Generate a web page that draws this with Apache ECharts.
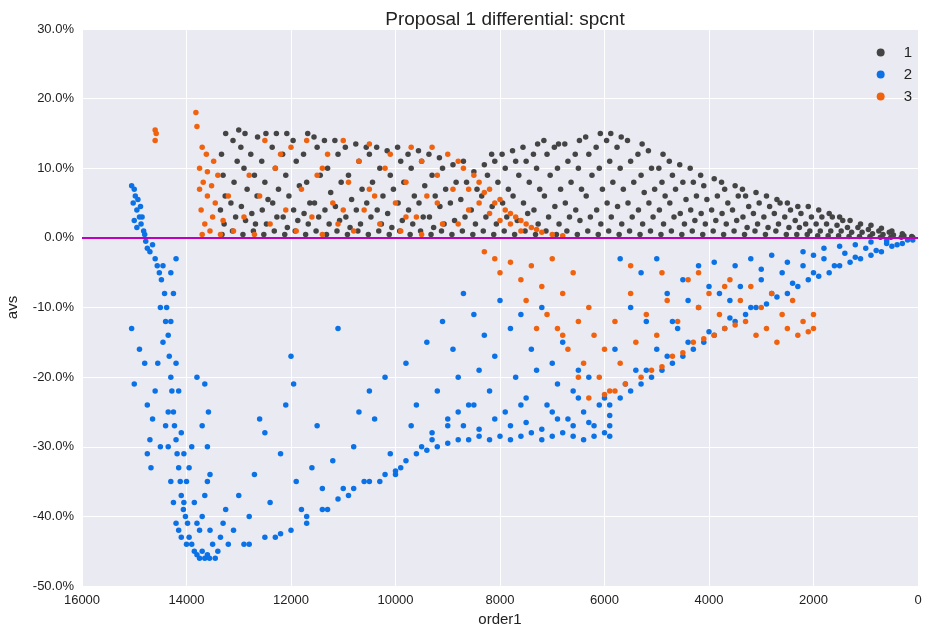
<!DOCTYPE html>
<html><head><meta charset="utf-8">
<script src="https://cdn.jsdelivr.net/npm/echarts@6/dist/echarts.min.js"></script>
<style>html,body{margin:0;padding:0;background:#fff}#c{width:939px;height:641px}</style>
</head><body><div id="c"></div>
<script>
const seriesNames = ['1','2','3'];
const s1 = [
[13320,0.5],[13280,2],[13350,4],[13260,6],[13300,9],[13330,12],[13250,15],
[13120,1],[13060,3],[13150,5],[13090,8],[13030,11],[13110,14],[13000,15.5],
[12920,0.5],[12870,2.5],[12950,4.5],[12840,7],[12900,10],[12960,13],[12880,15],
[12720,1],[12680,2],[12750,3.5],[12650,6],[12700,9],[12770,12],[12640,14.5],
[12520,0.5],[12470,2],[12550,4],[12440,5.5],[12500,8],[12560,11],[12480,15],
[12320,1],[12270,3],[12350,5],[12240,7],[12300,10],[12360,13],[12280,15],
[12120,0.5],[12070,1.5],[12150,3],[12040,6],[12100,9],[12160,12],[12080,15],
[11920,1],[11870,2.5],[11950,4],[11840,7.5],[11900,11],[11960,14],
[11720,0.5],[11670,2],[11750,3.5],[11640,5],[11700,8],[11760,12],[11680,15],
[11520,1],[11470,3],[11550,5],[11440,9],[11500,13],[11560,14.5],
[11320,0.5],[11270,2],[11350,4],[11240,6.5],[11300,10],[11360,14],
[11120,1],[11070,2.5],[11150,4.5],[11040,8],[11100,12],[11160,14],
[10920,0.5],[10870,1.5],[10950,3],[10840,5.5],[10900,9],[10960,13],
[10720,1],[10670,2],[10750,4],[10640,7],[10700,11],[10760,13.5],
[10520,0.5],[10470,3],[10550,5],[10440,8],[10500,12],[10560,13],
[10320,1],[10270,2],[10350,4],[10240,6],[10300,10],[10360,13],
[10120,0.5],[10070,1.5],[10150,3.5],[10040,7],[10100,9],[10160,12.5],
[9920,1],[9870,2.5],[9950,5],[9840,8],[9900,11],[9960,13],
[9720,0.5],[9670,2],[9750,4],[9640,6],[9700,10],[9760,12],
[9520,1],[9470,3],[9550,5],[9440,7.5],[9500,11],[9560,12.5],
[9320,0.5],[9270,1.5],[9350,3],[9240,6],[9300,9],[9360,12],
[9120,1],[9070,2],[9150,4.5],[9040,7],[9100,10],[9160,11.5],
[8920,0.5],[8870,2.5],[8950,5],[8840,8],[8900,10.5],
[8720,1],[8670,3],[8750,5.5],[8640,8],[8700,11],
[8520,0.5],[8470,2],[8550,4],[8440,7],[8500,9.5],
[8320,1],[8270,3],[8350,6],[8240,9],[8300,10.5],
[8120,0.5],[8070,2],[8150,4.5],[8040,8],[8100,11],[8160,12],
[7920,1],[7870,3],[7950,5],[7840,7],[7900,10],[7960,12],
[7720,0.5],[7670,2.5],[7750,6],[7640,9],[7700,11],[7760,12.5],
[7520,1],[7470,3.5],[7550,5],[7440,8],[7500,11],[7560,13],
[7320,0.5],[7270,2],[7350,4],[7240,7],[7300,10],[7360,12],[7280,13.5],
[7120,1],[7070,3],[7150,6],[7040,9],[7100,12],[7160,14],
[6920,0.5],[6870,2],[6950,4.5],[6840,7],[6900,10],[6960,13],[6880,13.5],
[6720,1],[6670,3],[6750,5],[6640,8],[6700,11],[6760,13.5],
[6520,0.5],[6470,2.5],[6550,4],[6440,7],[6500,10],[6560,12],[6480,14],
[6320,1],[6270,3],[6350,6],[6240,9],[6300,12],[6360,14.5],
[6120,0.5],[6070,2],[6150,4],[6040,7],[6100,10],[6160,13],[6080,15],
[5920,1],[5870,3],[5950,5],[5840,8],[5900,11],[5960,14],[5880,15],
[5720,0.5],[5670,2],[5750,4.5],[5640,7],[5700,10],[5760,13],[5680,14.5],
[5520,1],[5470,3],[5550,5],[5440,8],[5500,11],[5560,14],
[5320,0.5],[5270,2],[5350,4],[5240,6.5],[5300,9],[5360,12],[5280,13.5],
[5120,1],[5070,3],[5150,5],[5040,7],[5100,10],[5160,12.5],
[4920,0.5],[4870,2],[4950,4],[4840,6],[4900,8],[4960,10],[4880,12],
[4720,1],[4670,3],[4750,5],[4640,7],[4700,9],[4760,11],
[4520,0.5],[4470,2],[4550,3.5],[4440,5.5],[4500,8],[4560,10.5],
[4320,1],[4270,2.5],[4350,4],[4240,6],[4300,8],[4360,10],
[4120,0.5],[4070,2],[4150,3.5],[4040,5.5],[4100,7.5],[4160,9],
[3920,1],[3870,2.5],[3950,4],[3840,6],[3900,8.5],
[3720,0.5],[3670,2],[3750,3.5],[3640,5],[3700,7],[3760,8],
[3520,1],[3470,2.5],[3550,4],[3440,6],[3500,7.5],
[3320,0.5],[3270,1.5],[3350,3],[3240,4.5],[3300,6],[3360,7],
[3120,1],[3070,2],[3150,3.5],[3040,5],[3100,6.5],
[2920,0.5],[2870,1.5],[2950,3],[2840,4.5],[2900,6],
[2720,1],[2670,2],[2750,3.5],[2640,5],[2700,5.5],
[2520,0.5],[2470,1.5],[2550,3],[2440,4],[2500,5],
[2320,0.5],[2270,1.5],[2350,2.5],[2240,3.5],[2300,4.5],
[2120,0.5],[2070,1],[2150,2],[2040,3],[2100,4.5],
[1920,0.3],[1870,1],[1950,2],[1840,3],[1900,4],
[1720,0.3],[1670,1],[1750,2],[1640,3],[1700,3.5],
[1520,0.3],[1470,1],[1550,1.8],[1440,2.5],[1500,3],
[1320,0.2],[1270,0.8],[1350,1.5],[1300,2.5],
[1120,0.2],[1070,0.8],[1150,1.5],[1100,2],
[920,0.2],[870,0.6],[950,1.2],[900,1.8],
[720,0.1],[670,0.5],[750,1],[700,1.4],
[520,0.1],[470,0.4],[550,0.8],[500,1],
[320,0.1],[270,0.3],[300,0.6],[100,0.05],[120,0.2]
];
const s2 = [
[15050,7.5],[15000,7],[14980,6],[15020,5],[14950,4],[14900,3],[14870,2],[14820,1],[14800,0.5],[14950,1.5],[15000,2.5],[14930,5.5],[14880,4.5],[14850,3],[14780,-0.5],[14750,-1.5],[14700,-2],[14650,-1],[14600,-3],[14560,-4],[14520,-5],[14480,-6],[14450,-4],[14420,-8],[14380,-10],[14400,-12],[14350,-14],[14330,-17],[14300,-20],[14280,-22],[14250,-25],[14230,-27],[14200,-29],[14180,-31],[14150,-33],[14120,-35],[14100,-37],[14060,-39],[14020,-40],[13980,-41],[13950,-43],[13900,-44],[13850,-45],[13800,-45.5],[13750,-46],[13700,-45],[13650,-46],[13600,-45.5],[13560,-46],
[14500,-10],[14450,-15],[14550,-18],[14600,-22],[14650,-26],[14700,-29],[14750,-31],[14680,-33],[14500,-30],[14400,-27],[14350,-30],[14300,-35],[14250,-38],[14200,-41],[14150,-42],[14100,-43],[14000,-44],[14050,-38],[14000,-35],[13950,-33],[13900,-30],[13850,-38],[13800,-41],[13750,-42],[13700,-40],[13650,-37],[13600,-30],[13580,-25],[13550,-34],[14300,-12],[14250,-8],[14200,-3],[14300,-5],[14350,-25],[14200,-18],[14150,-22],[14100,-28],[14050,-31],[15050,-13],[15000,-21],[14900,-16],[14800,-18],[14750,-24],
[13800,-20],[13700,-27],[13650,-21],[13600,-35],[13550,-42],[13500,-44],[13450,-46],[13400,-45],[13350,-43],[13300,-41],[13250,-39],
[13200,-44],[13100,-42],[13000,-37],[12900,-44],[12800,-40],[12700,-34],[12600,-26],[12500,-28],[12400,-38],[12300,-43],[12200,-31],[12100,-24],[12000,-17],[11950,-21],[11900,-35],[11800,-39],[11700,-41],[11600,-33],[11500,-27],[11400,-36],[11300,-39],[11200,-32],[11100,-13],[11000,-36],[10900,-37],[10800,-30],[10700,-25],[10600,-35],[10500,-22],[10400,-26],[10300,-35],[10200,-20],[10100,-31],[10000,-34],[9900,-33],[9800,-18],[9700,-27],[9600,-24],[9500,-30],[9400,-15],[9300,-29],[9200,-22],[9100,-12],[9000,-26],[8900,-16],[8800,-20],[8700,-8],[8600,-24],[8500,-11],[8400,-19],[8300,-14],[8200,-22],[8100,-17],[8000,-9],[7900,-25],[7800,-13],[7700,-20],[7600,-11],[7500,-23],[7400,-16],[7300,-19],[7200,-10],[7100,-24],[7000,-18],[6900,-21],[6800,-15],[6700,-26],[6600,-22],[6500,-19],[6400,-25],[6300,-20],[6200,-27],[6100,-24],[6000,-23],
[12800,-44],[12500,-43],[12200,-42.5],[12000,-42],[11700,-40],[11400,-39],[11100,-37.5],[10800,-36],[10500,-35],[10200,-34],[10000,-33.5],[9800,-32],[9600,-31],[9400,-30.5],[9200,-30],[9000,-29.5],[8800,-29],[8600,-29],[8400,-28.5],[8200,-29],[8000,-28.5],[7800,-29],[7600,-28.5],[7400,-28],[7200,-29],[7000,-28.5],[6800,-28],[6600,-28.5],[6400,-29],[6200,-28.5],[6000,-28],[5900,-28.5],[5900,-27],[5900,-25.5],[5900,-24],[8700,-27],[8400,-27.5],[8100,-26],[7800,-27],[7500,-26.5],[7200,-27.5],[6900,-26],[6600,-27],[6300,-26.5],[9000,-27],[9300,-28],[8800,-25],[8500,-24],[7600,-24],[7000,-25],[6500,-23],
[5700,-23],[5500,-22],[5300,-21],[5100,-20],[4900,-19],[4700,-18],[4500,-17],[4300,-16],[4100,-15],[3900,-14],[3700,-13],[3500,-12],[3300,-11],[3100,-10],[2900,-9.5],[2700,-8.5],[2500,-8],[2300,-7],[2100,-6],[1900,-5.5],[1700,-5],[1500,-4],[1300,-3.5],[1100,-3],[900,-2.5],[700,-2],[500,-1.2],[300,-0.8],[100,-0.3],
[5600,-21],[5200,-19],[4800,-17],[4400,-15],[4000,-13.5],[3600,-11.5],[3200,-10],[2800,-8],[2400,-6.5],[2000,-5],[1600,-4],[1200,-2.8],[800,-1.8],[400,-1],
[5400,-19],[5000,-16],[4600,-13],[4200,-10],[3800,-8],[3400,-7],[3000,-6],[2600,-5],[2200,-4],[1800,-3],[1400,-2.2],[1000,-1.5],[600,-0.8],[200,-0.3],
[5800,-16],[5500,-10],[5300,-5],[5000,-3],[4700,-12],[4500,-6],[4200,-4],[3900,-3.5],[3500,-4],[3200,-3],[2800,-2.5],[2500,-3.5],[2200,-2],[1800,-1.5],[1500,-1.2],[1200,-1],[900,-0.6],[600,-0.4],[5700,-3],[4800,-8],[4000,-7],[3000,-4.5],[2000,-2.5],[5200,-12],[4400,-9],[3600,-9]
];
const s3 = [
[14600,15.5],[14580,15],[14600,14],[13820,18],[13800,16],
[13700,0.5],[13650,2],[13720,4],[13600,6],[13680,8],[13750,10],[13620,12],[13700,13],[13550,1],[13500,3],[13450,5],[13520,7.5],[13400,9],[13480,11],[13350,0.5],[13300,2.5],[13600,9.5],[13750,7],
[13100,1],[12900,3],[12700,0.5],[12600,6],[12400,2],[12300,10],[12100,4],[12000,13],[11900,1],[11800,7],[11700,14],[11600,3],[11500,9],[11400,0.5],[11300,12],[11200,5],[11100,2],[11000,14],[10900,8],[10800,1],[10700,11],[10600,4],[10500,13.5],[10400,6],[10300,2],[10200,10],[10100,12],[10000,5],[9900,1],[9800,8],[9700,13],[9600,3],[9500,11],[9400,6],[9300,13],[9200,9],[9100,2],[9000,12],[8900,7],[8800,11],[8700,10],[8600,4],[8500,9],[8400,8],[8300,6.5],[8200,7],[8100,5],[8000,5.5],[7900,4],[7800,3.5],[7700,3],[7600,2.5],[7500,2],[7400,1.5],[7300,1.2],[7200,0.8],[7000,0.5],[6800,0.3],[8600,7],[8400,5],[8200,3.5],[8000,2.5],[7800,2],[7600,1],[12800,9],[12200,12],[11000,4],[10500,7],[9800,3],[9200,5],[8800,2],[13200,6],[12500,14],[11400,10],[9500,0.5],
[8300,-2],[8100,-3],[8000,-5],[7800,-3.5],[7600,-6],[7500,-9],[7400,-4],[7200,-7],[7100,-11],[7000,-3],[6900,-13],[6800,-8],[6700,-16],[6600,-5],[6500,-12],[6400,-18],[6300,-10],[6200,-14],[6100,-20],[6000,-16],[5900,-22],[5800,-12],[5700,-18],[5600,-21],[5500,-8],[5400,-15],[5300,-20],[5200,-11],[5100,-19],[5000,-14],[4900,-18.5],[4800,-9],[4700,-17],[4600,-12],[4500,-16.5],[4400,-6],[4300,-15],[4200,-10],[4100,-14.5],[4000,-8],[3900,-14],[3800,-11],[3700,-13],[3600,-6],[3500,-12.5],[3400,-9],[3300,-12],[3200,-7],[3100,-14],[3000,-10],[2900,-13],[2800,-8],[2700,-15],[2600,-11],[2500,-13],[2400,-9],[2300,-14],[2200,-12],[2100,-13.5],[2000,-11],[2000,-13],[6300,-23],[6000,-22.5],[5800,-22],[6500,-20],[6800,-14],[7300,-13],[5500,-4],[4900,-5],[4200,-5],[3700,-7]
];
const colors = ['#444444','#0a72e6','#f0620e'];
const chart = echarts.init(document.getElementById('c'));
const font = 'Liberation Sans, Arial, sans-serif';
const mk = (name, data, i) => ({
  name, type:'scatter', data, symbolSize:5.5,
  itemStyle:{color:colors[i], opacity:1}, z:2
});
const ser = [mk(seriesNames[0],s1,0), mk(seriesNames[1],s2,1), mk(seriesNames[2],s3,2)];
ser.push({type:'line', data:[[16000,0],[0,0]], symbol:'none', lineStyle:{color:'#c000c0',width:2}, z:3, silent:true});
chart.setOption({
  animation:false,
  backgroundColor:'#fff',
  title:{text:'Proposal 1 differential: spcnt', left:500, textAlign:'center', top:5,
    textStyle:{fontFamily:font,fontSize:19,fontWeight:'normal',color:'#222'}},
  legend:{data:seriesNames, orient:'vertical', right:22, top:40, itemWidth:8, itemHeight:8, itemGap:7,
    icon:'circle', textStyle:{fontFamily:font,fontSize:15,color:'#222',padding:[0,0,0,14]}},
  grid:{left:82,right:21,top:29,bottom:55,show:true,backgroundColor:'#EAEAF2',borderWidth:0,outerBoundsMode:'none'},
  xAxis:{type:'value', inverse:true, min:0, max:16000, interval:2000,
    name:'order1', nameLocation:'middle', nameGap:25, nameTextStyle:{fontFamily:font,fontSize:15,color:'#222'},
    axisLine:{show:false}, axisTick:{show:false},
    axisLabel:{fontFamily:font,fontSize:13,color:'#222',margin:8, formatter:v=>String(v)},
    splitLine:{lineStyle:{color:'#fff',width:1}}},
  yAxis:{type:'value', min:-50, max:30, interval:10,
    name:'avs', nameLocation:'middle', nameGap:62, nameTextStyle:{fontFamily:font,fontSize:15,color:'#222'},
    axisLine:{show:false}, axisTick:{show:false},
    axisLabel:{fontFamily:font,fontSize:13,color:'#222',margin:8, formatter:v=>v.toFixed(1)+'%'},
    splitLine:{lineStyle:{color:'#fff',width:1}}},
  series:ser
});
</script></body></html>
